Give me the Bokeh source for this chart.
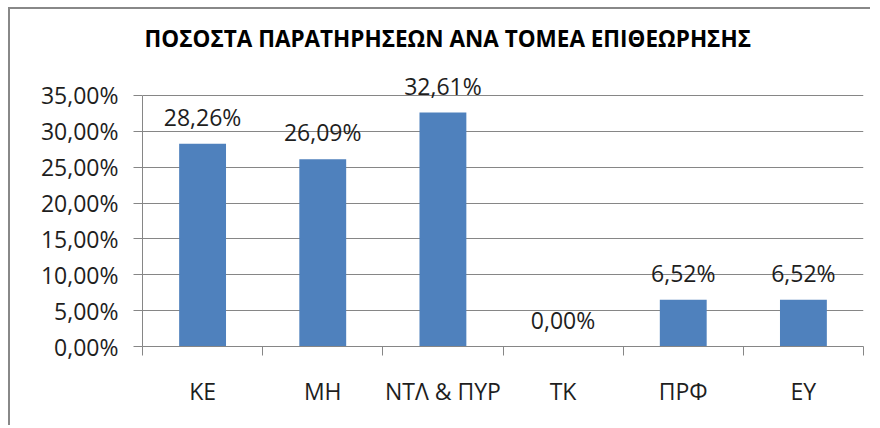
from bokeh.plotting import figure
from bokeh.models import (ColumnDataSource, Range1d, FixedTicker, LabelSet, Title)
from bokeh.core.properties import value
from bokeh.embed import file_html
from bokeh.resources import INLINE

categories = ["ΚΕ", "ΜΗ", "ΝΤΛ & ΠΥΡ", "ΤΚ", "ΠΡΦ", "ΕΥ"]
values = [28.26, 26.09, 32.61, 0.00, 6.52, 6.52]
value_labels = ["28,26%", "26,09%", "32,61%", "0,00%", "6,52%", "6,52%"]
y_ticks = [0, 5, 10, 15, 20, 25, 30, 35]
y_tick_labels = ["0,00%", "5,00%", "10,00%", "15,00%", "20,00%", "25,00%", "30,00%", "35,00%"]
title_text = "ΠΟΣΟΣΤΑ ΠΑΡΑΤΗΡΗΣΕΩΝ ΑΝΑ ΤΟΜΕΑ ΕΠΙΘΕΩΡΗΣΗΣ"

FONT = "Open Sans"
GRAY = "#868686"
TXT = "#1e1e1e"
LBL = "23px"

n = len(categories)
centers = [i + 0.5 for i in range(n)]
bounds = list(range(n + 1))
src = ColumnDataSource(dict(x=centers, val=values, lab=value_labels))

p = figure(width=862, height=418, x_range=Range1d(0, n), y_range=Range1d(0, 40),
           output_backend="svg", toolbar_location=None,
           min_border_left=132, min_border_right=9, min_border_top=50, min_border_bottom=81)
p.styles = {"border-left": "2px solid #888888", "border-top": "2px solid #888888",
            "margin-left": "8px", "margin-top": "7px"}
p.outline_line_color = None
p.background_fill_color = "white"
p.border_fill_color = "white"

p.title = Title(text=title_text, align="left", offset=2, standoff=12, text_font=FONT,
                text_font_size="22.5px", text_font_style="bold", text_color="#000000")

p.vbar(x="x", top="val", width=0.39, source=src, fill_color="#4F81BD", line_color=None)

# y axis
ya = p.yaxis[0]
ya.ticker = FixedTicker(ticks=y_ticks)
ya.bounds = (0, 35)
ya.major_label_overrides = {t: s for t, s in zip(y_ticks, y_tick_labels)}
ya.axis_line_color = GRAY
ya.major_tick_line_color = GRAY
ya.major_tick_in = 0
ya.major_tick_out = 9
ya.minor_tick_line_color = None
ya.major_label_standoff = 15
ya.major_label_text_font = FONT
ya.major_label_text_font_size = LBL
ya.major_label_text_color = TXT

p.xgrid.grid_line_color = None
p.ygrid.grid_line_color = GRAY
p.ygrid.ticker = FixedTicker(ticks=y_ticks)

# x axis: labels at category centres, tick marks at category boundaries
xa = p.xaxis[0]
xa.ticker = FixedTicker(ticks=centers, minor_ticks=bounds)
xa.major_label_overrides = {c: s for c, s in zip(centers, categories)}
xa.axis_line_color = GRAY
xa.major_tick_line_color = None
xa.major_tick_in = 0
xa.major_tick_out = 0
xa.minor_tick_line_color = GRAY
xa.minor_tick_in = 0
xa.minor_tick_out = 9
xa.major_label_standoff = 19
xa.major_label_text_font = FONT
xa.major_label_text_font_size = LBL
xa.major_label_text_color = TXT

labels = LabelSet(x="x", y="val", text="lab", source=src, y_offset=27,
                  text_align="center", text_baseline="middle", text_font=value(FONT),
                  text_font_size=LBL, text_color=TXT)
p.add_layout(labels)

open("out.html", "w").write(file_html(p, INLINE))
